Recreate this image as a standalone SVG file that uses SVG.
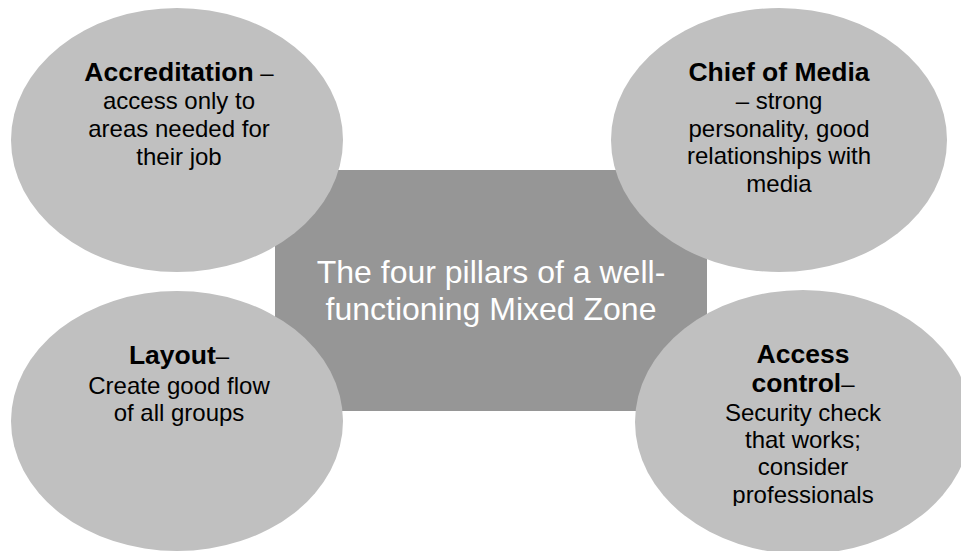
<svg xmlns="http://www.w3.org/2000/svg" width="961" height="551" viewBox="0 0 961 551">
<style>
.bg{fill:#ffffff}
.center{fill:#969696}
.pill{fill:#c0c0c0}
.t{font-family:"Liberation Sans",Arial,sans-serif;font-size:24px;fill:#000000;text-anchor:middle}
.b{font-weight:bold;font-size:26.5px}
.ct{font-family:"Liberation Sans",Arial,sans-serif;font-size:32px;fill:#ffffff;text-anchor:middle}
</style>
<defs>
<clipPath id="clipBR"><rect x="635" y="290" width="326" height="216"/></clipPath>
</defs>
<rect class="bg" x="0" y="0" width="961" height="551"/>
<g id="center">
<rect class="center" x="275" y="170" width="432" height="241"/>
<text class="ct" x="491" y="283">The four pillars of a well-</text>
<text class="ct" x="491" y="320">functioning Mixed Zone</text>
</g>
<g id="connectors"></g>
<g id="accreditation">
<ellipse class="pill" cx="177" cy="140" rx="166" ry="132"/>
<text class="t" x="179" y="81"><tspan class="b">Accreditation</tspan> –</text>
<text class="t" x="179" y="109">access only to</text>
<text class="t" x="179" y="137">areas needed for</text>
<text class="t" x="179" y="165">their job</text>
</g>
<g id="chief-of-media">
<ellipse class="pill" cx="779" cy="140" rx="168" ry="132"/>
<text class="t b" x="779" y="81">Chief of Media</text>
<text class="t" x="779" y="109">– strong</text>
<text class="t" x="779" y="137">personality, good</text>
<text class="t" x="779" y="164">relationships with</text>
<text class="t" x="779" y="192">media</text>
</g>
<g id="layout">
<ellipse class="pill" cx="177" cy="421" rx="166" ry="130"/>
<text class="t" x="179" y="364"><tspan class="b">Layout</tspan>–</text>
<text class="t" x="179" y="394">Create good flow</text>
<text class="t" x="179" y="421">of all groups</text>
</g>
<g id="access-control">
<ellipse class="pill" cx="803" cy="422" rx="168" ry="132"/>
<g clip-path="url(#clipBR)">
<text class="t b" x="803" y="363">Access</text>
<text class="t" x="803" y="392"><tspan class="b">control</tspan>–</text>
<text class="t" x="803" y="421">Security check</text>
<text class="t" x="803" y="448">that works;</text>
<text class="t" x="803" y="475">consider</text>
<text class="t" x="803" y="503">professionals</text>
</g>
</g>
</svg>
